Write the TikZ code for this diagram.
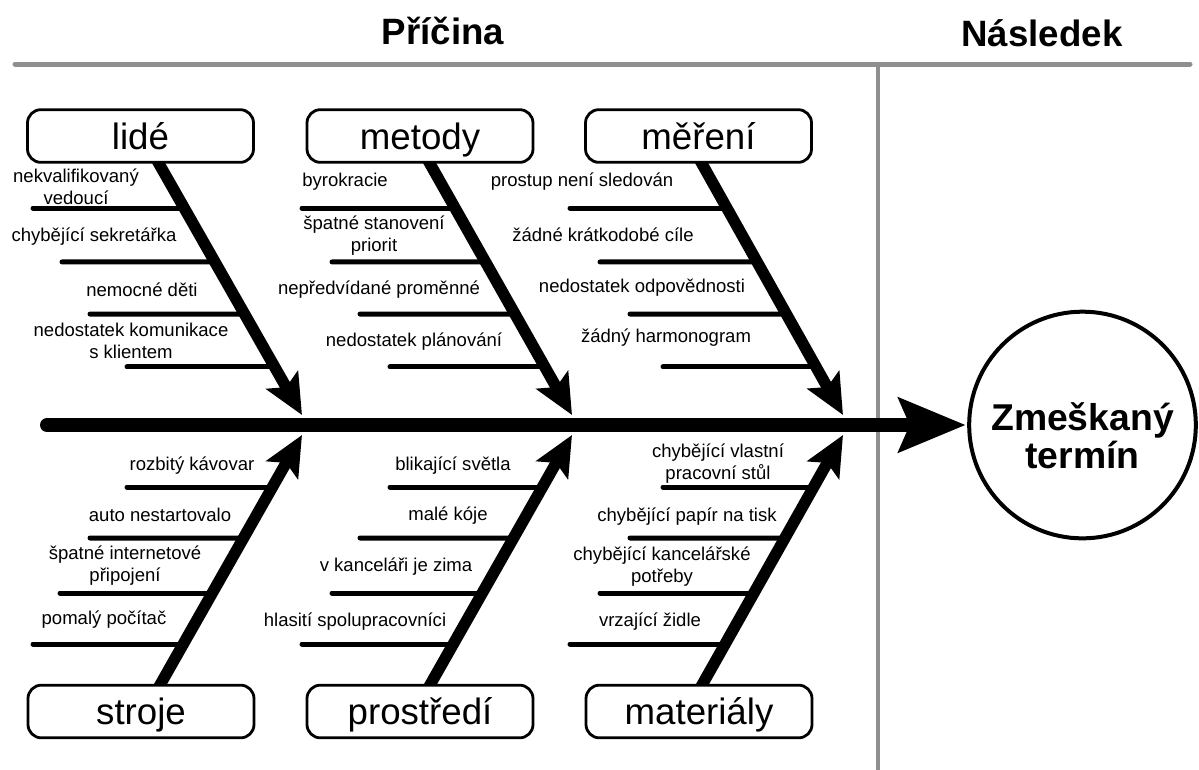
\documentclass[tikz,border=0pt]{standalone}
\usepackage{fontspec}
\setmainfont{Liberation Sans}
\usetikzlibrary{arrows.meta,calc}
\definecolor{divgray}{HTML}{8F8F8F}
\begin{document}
\begin{tikzpicture}[x=0.75pt,y=-0.75pt,
  category/.style={draw,fill=white,line width=2.1pt,rounded corners=10pt,
    minimum width=169.5pt,minimum height=39.5pt,inner sep=0pt,
    text height=20pt,text depth=0pt,
    font=\fontsize{27.5}{30}\selectfont},
  cause/.style={align=center,inner sep=0pt,font=\fontsize{13.9}{16.5}\selectfont},
  header/.style={inner sep=0pt,font=\bfseries\fontsize{27.5}{30}\selectfont},
  divider/.style={line width=3.75pt,draw=divgray,line cap=round},
  bone/.style={line width=8.6pt,-{Stealth[length=30pt,width=27pt,inset=6pt]}},
  rib/.style={line width=3.75pt,line cap=round},
  spine/.style={line width=10.5pt,line cap=round,-{Stealth[length=50pt,width=40pt,inset=8pt]}},
  outcome/.style={circle,draw,line width=3pt,minimum size=170pt,inner sep=0pt},
  outcome text/.style={align=center,inner sep=0pt,font=\bfseries\fontsize{28}{28.5}\selectfont},
]
\useasboundingbox (0,0) rectangle (1199,769);

% column headings and dividers
\node[header] (cause-title) at (443,31) {Příčina};
\node[header] (effect-title) at (1042,33) {Následek};
\coordinate (rule-left) at (15,64);
\coordinate (rule-right) at (1190,64);
\coordinate (rule-top) at (878,64);
\coordinate (rule-bottom) at (878,772);
\draw[divider] (rule-left) -- (rule-right);
\draw[divider,line width=3pt,line cap=butt] (rule-top) -- (rule-bottom);

% effect
\node[outcome] (effect) at (1082.5,425) {};
\node[outcome text] (effect-label) at ($(effect.center)+(0,11)$) {Zmeškaný\\termín};

% bone roots (at the category boxes) and tips (at the spine)
\coordinate (lide-root) at (158,162);      \coordinate (lide-tip) at (302,415);
\coordinate (metody-root) at (429,162);    \coordinate (metody-tip) at (572,415);
\coordinate (mereni-root) at (701,162);    \coordinate (mereni-tip) at (843,415);
\coordinate (stroje-root) at (160,685);    \coordinate (stroje-tip) at (302,435);
\coordinate (prostredi-root) at (430,685); \coordinate (prostredi-tip) at (572,435);
\coordinate (materialy-root) at (702,685); \coordinate (materialy-tip) at (843,435);

% ribs, upper bones
\foreach \b/\xa/\xb/\xc/\xd in {lide/33/62/90/127, metody/302/332/360/390, mereni/570/600/630/663}{
  \foreach \x/\t in {\xa/0.182, \xb/0.395, \xc/0.601, \xd/0.810}{
    \draw[rib] (\x,{162+\t*253}) -- ($(\b-root)!\t!(\b-tip)$);
  }
}
% ribs, lower bones
\foreach \b/\xa/\xb/\xc/\xd in {stroje/127/90/60/33, prostredi/390/360/332/302, materialy/663/630/600/570}{
  \foreach \x/\t in {\xa/0.792, \xb/0.588, \xc/0.368, \xd/0.164}{
    \draw[rib] (\x,{685-\t*250}) -- ($(\b-root)!\t!(\b-tip)$);
  }
}

% bones
\foreach \b in {lide,metody,mereni,stroje,prostredi,materialy}{
  \draw[bone] ($(\b-root)!-0.03!(\b-tip)$) -- (\b-tip);
}

% spine
\coordinate (spine-tail) at (47,425);
\draw[spine,shorten >=1pt] (spine-tail) -- (effect.west);

% categories
\node[category] (lide) at (140.5,136) {lidé};
\node[category] (metody) at (420,136) {metody};
\node[category] (mereni) at (698.5,136) {měření};
\node[category] (stroje) at (141,711.5) {stroje};
\node[category] (prostredi) at (420,711.5) {prostředí};
\node[category] (materialy) at (699,711.5) {materiály};

% causes: lidé
\node[cause] (c-lide-1) at (76,187) {nekvalifikovaný\\vedoucí};
\node[cause] (c-lide-2) at (94,237) {chybějící sekretářka};
\node[cause] (c-lide-3) at (142,290) {nemocné děti};
\node[cause] (c-lide-4) at (131,341) {nedostatek komunikace\\s klientem};
% causes: metody
\node[cause] (c-metody-1) at (345,182) {byrokracie};
\node[cause] (c-metody-2) at (374,236) {špatné stanovení\\priorit};
\node[cause] (c-metody-3) at (379,290) {nepředvídané proměnné};
\node[cause] (c-metody-4) at (414,342) {nedostatek plánování};
% causes: měření
\node[cause] (c-mereni-1) at (582,182) {prostup není sledován};
\node[cause] (c-mereni-2) at (603,235) {žádné krátkodobé cíle};
\node[cause] (c-mereni-3) at (642,288) {nedostatek odpovědnosti};
\node[cause] (c-mereni-4) at (666,338) {žádný harmonogram};
% causes: stroje
\node[cause] (c-stroje-1) at (192,466) {rozbitý kávovar};
\node[cause] (c-stroje-2) at (160,515) {auto nestartovalo};
\node[cause] (c-stroje-3) at (125,566) {špatné internetové\\připojení};
\node[cause] (c-stroje-4) at (104,620) {pomalý počítač};
% causes: prostředí
\node[cause] (c-prostredi-1) at (453,466) {blikající světla};
\node[cause] (c-prostredi-2) at (448,516) {malé kóje};
\node[cause] (c-prostredi-3) at (396,567) {v kanceláři je zima};
\node[cause] (c-prostredi-4) at (355,622) {hlasití spolupracovníci};
% causes: materiály
\node[cause] (c-materialy-1) at (718,464) {chybějící vlastní\\pracovní stůl};
\node[cause] (c-materialy-2) at (687,517) {chybějící papír na tisk};
\node[cause] (c-materialy-3) at (662,567) {chybějící kancelářské\\potřeby};
\node[cause] (c-materialy-4) at (650,622) {vrzající židle};
\end{tikzpicture}
\end{document}
